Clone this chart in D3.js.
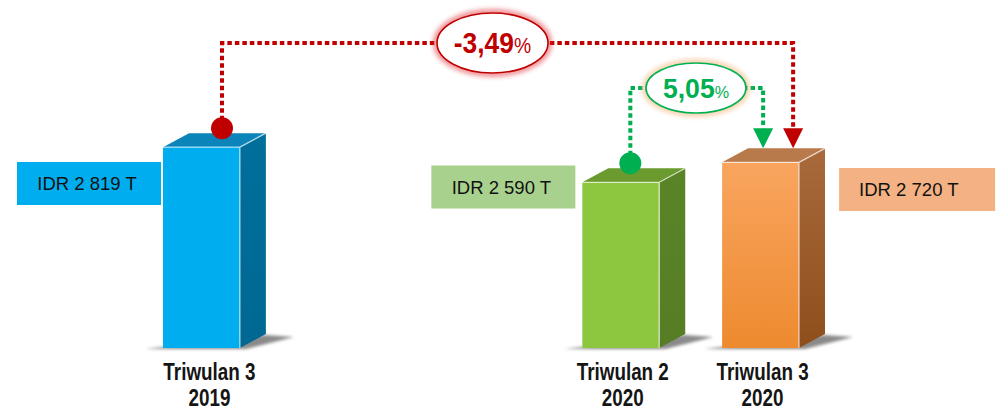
<!DOCTYPE html>
<html>
<head>
<meta charset="utf-8">
<script src="https://cdn.jsdelivr.net/npm/d3@7"></script>
<style>
  body { margin: 0; background: #fff; }
  svg { display: block; }
  .cat { font-family: "Liberation Sans", Arial, sans-serif; font-weight: bold; font-size: 23px; fill: #151515; }
  .val { font-family: "Liberation Sans", Arial, sans-serif; font-size: 18.5px; fill: #111; }
  .pct { font-family: "Liberation Sans", Arial, sans-serif; font-weight: bold; }
</style>
</head>
<body>
<div id="chart"></div>
<script>
const w = 1000;
const h = 411;

// every quarter on the time axis, only three of them have a bar
const quarters = ["2019Q3", "2019Q4", "2020Q1", "2020Q2", "2020Q3"];
const periods = ["2019Q3", "2020Q2", "2020Q3"];
const periodLine1 = ["Triwulan 3", "Triwulan 2", "Triwulan 3"];
const periodLine2 = ["2019", "2020", "2020"];
const values = [2819, 2590, 2720]; // IDR trillion

// growth annotations
const changeFrom = ["2019Q3", "2020Q2"];
const changeTo = ["2020Q3", "2020Q3"];
const changeText = ["-3,49", "5,05"];

const palette = [
  { front: ["#00aeef", "#00aeef"], top: "#0b84b9", side: ["#006f9c", "#006892"], box: "#00aeef" },
  { front: ["#8dc63f", "#8dc63f"], top: "#6b9a2e", side: ["#5b8428", "#567d25"], box: "#a9d18e" },
  { front: ["#f9a55f", "#ed8a2f"], top: "#b97a4b", side: ["#a96a3c", "#8e4e1c"], box: "#f4b183" }
];

const narrow = 0.82; // condensed look without a narrow font

const svg = d3
  .select("#chart")
  .append("svg")
  .attr("width", w)
  .attr("height", h);

const defs = svg.append("defs");
defs.append("filter").attr("id", "blur2").attr("x", "-50%").attr("y", "-50%").attr("width", "200%").attr("height", "200%")
  .append("feGaussianBlur").attr("stdDeviation", 2.5);
defs.append("filter").attr("id", "blur1").attr("x", "-50%").attr("y", "-50%").attr("width", "200%").attr("height", "200%")
  .append("feGaussianBlur").attr("stdDeviation", 1.8);

palette.forEach(function(p, i) {
  let g = defs.append("linearGradient").attr("id", "front" + i).attr("x1", 0).attr("y1", 0).attr("x2", 0).attr("y2", 1);
  g.append("stop").attr("offset", "0%").attr("stop-color", p.front[0]);
  g.append("stop").attr("offset", "100%").attr("stop-color", p.front[1]);
  let s = defs.append("linearGradient").attr("id", "side" + i).attr("x1", 0).attr("y1", 0).attr("x2", 0).attr("y2", 1);
  s.append("stop").attr("offset", "0%").attr("stop-color", p.side[0]);
  s.append("stop").attr("offset", "100%").attr("stop-color", p.side[1]);
});

const x = d3.scaleBand()
  .domain(quarters)
  .range([163, 799])
  .paddingInner(0.45)
  .paddingOuter(0);

const y = d3.scaleLinear()
  .domain([1510, 2820])
  .range([348, 147]);

const bw = x.bandwidth();
const dx = 26;   // depth of the 3d box
const dy = 14;
const base = y.range()[0];

// floor shadows
svg.selectAll(".shadow")
  .data(periods)
  .enter()
  .append("polygon")
  .attr("class", "shadow")
  .attr("points", function(d) {
    let x0 = x(d);
    return [[x0 - 18, base + 1], [x0 + bw + 6, base + 1], [x0 + bw + dx + 28, base - 11], [x0 + bw + dx, base - 13]].join(" ");
  })
  .attr("fill", "#6d6d6d")
  .attr("opacity", 0.8)
  .attr("filter", "url(#blur1)");

const bar = svg.selectAll(".bar")
  .data(periods)
  .enter()
  .append("g")
  .attr("class", "bar");

bar.append("polygon")
  .attr("points", function(d, i) {
    let x0 = x(d) + bw, t = y(values[i]);
    return [[x0, t], [x0 + dx, t - dy], [x0 + dx, base - dy], [x0, base]].join(" ");
  })
  .attr("fill", (d, i) => "url(#side" + i + ")");

bar.append("polygon")
  .attr("points", function(d, i) {
    let x0 = x(d), t = y(values[i]);
    return [[x0, t], [x0 + dx, t - dy], [x0 + bw + dx, t - dy], [x0 + bw, t]].join(" ");
  })
  .attr("fill", (d, i) => palette[i].top);

bar.append("rect")
  .attr("x", d => x(d))
  .attr("y", (d, i) => y(values[i]))
  .attr("width", bw)
  .attr("height", (d, i) => base - y(values[i]))
  .attr("fill", (d, i) => "url(#front" + i + ")");

// light edges of the box
bar.append("path")
  .attr("d", function(d, i) {
    let x0 = x(d), t = y(values[i]);
    return "M" + x0 + "," + t + "H" + (x0 + bw) + "V" + base + "M" + (x0 + bw) + "," + t + "L" + (x0 + bw + dx) + "," + (t - dy);
  })
  .attr("fill", "none")
  .attr("stroke", "rgba(255,255,255,0.65)")
  .attr("stroke-width", 1.3);

// value boxes
const boxes = [
  { dxBox: -146, yc: 183.5, wBox: 144 },
  { dxBox: -151, yc: 187, wBox: 144 },
  { dxBox: 117, yc: 189.5, wBox: 156 }
];

const vb = svg.selectAll(".vbox")
  .data(periods)
  .enter()
  .append("g")
  .attr("class", "vbox")
  .attr("transform", (d, i) => "translate(" + (x(d) + boxes[i].dxBox) + "," + (boxes[i].yc - 21.5) + ")");

vb.append("rect")
  .attr("width", (d, i) => boxes[i].wBox)
  .attr("height", 43)
  .attr("fill", (d, i) => palette[i].box);

vb.append("text")
  .attr("class", "val")
  .attr("x", (d, i) => i == 2 ? 20 : boxes[i].wBox / 2 - 2)
  .attr("y", 28)
  .attr("text-anchor", (d, i) => i == 2 ? "start" : "middle")
  .text((d, i) => "IDR " + d3.format(",")(values[i]).replace(/,/g, " ") + " T");

// category labels
const cat = svg.selectAll(".cat")
  .data(periods)
  .enter()
  .append("text")
  .attr("class", "cat")
  .attr("text-anchor", "middle")
  .attr("transform", (d, i) => "translate(" + (x(d) + bw / 2 + (i == 0 ? 8 : 2)) + ",0) scale(" + narrow + ",1)");

cat.append("tspan").attr("x", 0).attr("y", 380).text((d, i) => periodLine1[i]);
cat.append("tspan").attr("x", 0).attr("y", 406).text((d, i) => periodLine2[i]);

// growth annotations
const notes = [
  { color: "#c00000", glow: "#e0202a", lineY: 43, fromOff: 59, toOff: 71, cx: 492.5, rx: 55.5, ry: 30, big: 30, small: 22, sx: 0.88 },
  { color: "#00b050", glow: "#f4a460", lineY: 88, fromOff: 48, toOff: 41, cx: 696, rx: 50, ry: 25, big: 28, small: 17, sx: 0.95 }
];

changeText.forEach(function(txt, k) {
  let n = notes[k];
  let i0 = periods.indexOf(changeFrom[k]);
  let i1 = periods.indexOf(changeTo[k]);
  let xa = x(changeFrom[k]) + n.fromOff;
  let ya = y(values[i0]) - 19;
  let xb = x(changeTo[k]) + n.toOff;
  let tip = y(values[i1]) - dy;
  let g = svg.append("g");

  g.append("path")
    .attr("d", "M" + xa + "," + (ya - 8) + "V" + n.lineY + "H" + xb + "V" + (tip - 20))
    .attr("fill", "none")
    .attr("stroke", n.color)
    .attr("stroke-width", 4)
    .attr("stroke-dasharray", "4.5,3");

  g.append("circle")
    .attr("cx", xa)
    .attr("cy", ya)
    .attr("r", 11)
    .attr("fill", n.color);

  g.append("path")
    .attr("d", "M" + (xb - 10) + "," + (tip - 20) + "H" + (xb + 10) + "L" + xb + "," + tip + "Z")
    .attr("fill", n.color);

  g.append("ellipse")
    .attr("cx", n.cx).attr("cy", n.lineY)
    .attr("rx", n.rx + 1).attr("ry", n.ry + 1)
    .attr("fill", "none")
    .attr("stroke", n.glow)
    .attr("stroke-width", 5)
    .attr("opacity", 0.6)
    .attr("filter", "url(#blur2)");

  g.append("ellipse")
    .attr("cx", n.cx).attr("cy", n.lineY)
    .attr("rx", n.rx).attr("ry", n.ry)
    .attr("fill", "#fff")
    .attr("stroke", n.color)
    .attr("stroke-width", 1.6);

  let t = g.append("text")
    .attr("class", "pct")
    .attr("text-anchor", "middle")
    .attr("transform", "translate(" + n.cx + "," + (n.lineY + 10) + ") scale(" + n.sx + ",1)")
    .attr("fill", n.color);
  t.append("tspan").attr("font-size", n.big + "px").text(txt);
  t.append("tspan").attr("font-size", n.small + "px").attr("font-weight", "normal").text("%");
});
</script>
</body>
</html>
